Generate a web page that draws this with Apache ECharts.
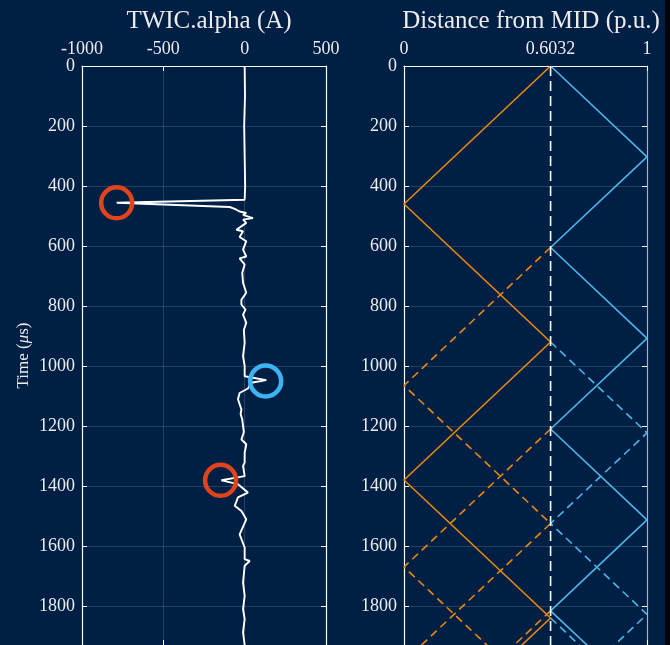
<!DOCTYPE html>
<html>
<head>
<meta charset="utf-8">
<script src="https://cdn.jsdelivr.net/npm/echarts@6/dist/echarts.min.js"></script>
<style>
  html, body { margin: 0; padding: 0; background: #001f45; }
  #chart { width: 670px; height: 645px; }
</style>
</head>
<body>
<div id="chart"></div>
<script>
// TWIC.alpha trace (left panel)
const twicTime = [0, 100, 200, 300, 400, 446, 456, 470, 476, 485, 490, 496, 507, 512, 523, 546, 551, 570, 584, 612, 635, 641, 662, 690, 723, 756, 779, 795, 812, 829, 856, 880, 923, 967, 1000, 1034, 1047, 1056, 1075, 1090, 1111, 1145, 1160, 1178, 1200, 1220, 1245, 1261, 1289, 1322, 1333, 1367, 1381, 1394, 1422, 1438, 1466, 1483, 1511, 1561, 1605, 1644, 1650, 1666, 1721, 1766, 1810, 1844, 1888, 1930]
const twicAmp = [0, 2, -3, 0, 3, 0, -787, -92, -61, -31, 10, -10, 51, -10, 10, -51, -10, -31, 10, -10, 10, -31, 0, -15, -10, 10, -20, -20, 5, -10, 10, -5, 0, -10, 0, 0, 133, 41, 20, -31, -41, -20, -25, -15, -10, -5, -20, 10, 0, 0, -10, 0, -143, -41, 20, -41, -61, -20, 10, -31, 0, 0, 31, 0, -10, 0, -10, 0, -10, 0]

// marked peaks
const redPeakAmp = [-787, -148]
const redPeakTime = [456, 1381]
const bluePeakAmp = [129]
const bluePeakTime = [1050]

// lattice diagram (right panel), [distance p.u., time us]
const faultPos = 0.6032
const orangeSolid = [[0.6032, 0], [0, 460], [0.6032, 920], [0, 1380], [0.6032, 1840], [0, 2300]]
const blueSolid = [[0.6032, 0], [1, 303], [0.6032, 605], [1, 908], [0.6032, 1210], [1, 1513], [0.6032, 1816], [1, 2118]]
const orangeDashA = [[0.6032, 605], [0, 1065], [0.6032, 1525], [0, 1985]]
const orangeDashB = [[0.6032, 1210], [0, 1670], [0.6032, 2130]]
const orangeDashC = [[0.6032, 1816], [0, 2276]]
const blueDashA = [[0.6032, 920], [1, 1223], [0.6032, 1525], [1, 1828], [0.6032, 2130]]
const blueDashB = [[0.6032, 1840], [1, 2143]]

const timeTicks = 200
const timeMax = 1930
const ampTicks = [-1000, 500, 500]
const distTicks = [0, 0.6032, 1]

const serif = "'Liberation Serif', 'DejaVu Serif', serif"
const txt = '#ececec'
const gridCol = 'rgba(255,255,255,0.15)'
const orange = '#e8890c'
const blue = '#4cb6e8'
const plain = (v) => String(v)

function xTop (gi, extra) {
  return Object.assign({
    gridIndex: gi,
    type: 'value',
    position: 'top',
    axisLine: { show: true, onZero: false, lineStyle: { color: '#ffffff', width: 1.2 } },
    axisTick: { show: true, inside: true, length: 5, lineStyle: { color: '#ffffff' } },
    axisLabel: { color: txt, fontFamily: serif, fontSize: 18, margin: 8, formatter: plain }
  }, extra)
}

function xBottom (gi, extra) {
  return Object.assign({
    gridIndex: gi,
    type: 'value',
    position: 'bottom',
    axisLine: { show: true, onZero: false, lineStyle: { color: '#ffffff', width: 1.2 } },
    axisTick: { show: true, inside: true, length: 5, lineStyle: { color: '#ffffff' } },
    axisLabel: { show: false },
    splitLine: { show: false }
  }, extra)
}

function yAx (gi, pos, edgeColor, extra) {
  return Object.assign({
    gridIndex: gi,
    type: 'value',
    position: pos,
    inverse: true,
    min: 0,
    max: timeMax,
    interval: timeTicks,
    axisLine: { show: true, onZero: false, lineStyle: { color: edgeColor, width: 1.2 } },
    axisTick: { show: true, inside: true, length: 5, lineStyle: { color: '#ffffff' } },
    axisLabel: { show: pos === 'left', color: txt, fontFamily: serif, fontSize: 18, margin: 7, showMaxLabel: false, formatter: plain },
    splitLine: { show: pos === 'left', lineStyle: { color: gridCol, width: 1 } }
  }, extra)
}

function seg (data, color, dashed, xi, yi) {
  return {
    type: 'line',
    xAxisIndex: xi,
    yAxisIndex: yi,
    data: data,
    showSymbol: false,
    silent: true,
    lineStyle: { color: color, width: 1.6, type: dashed ? [8, 5] : 'solid' },
    z: 3
  }
}

const chart = echarts.init(document.getElementById('chart'))
chart.setOption({
  backgroundColor: '#001f45',
  animation: false,
  title: [
    { text: 'TWIC.alpha (A)', left: 204, top: 4, textAlign: 'center',
      textStyle: { color: txt, fontFamily: serif, fontSize: 25, fontWeight: 'normal' } },
    { text: 'Distance from MID (p.u.)', left: 526, top: 4, textAlign: 'center',
      textStyle: { color: txt, fontFamily: serif, fontSize: 25, fontWeight: 'normal' } }
  ],
  grid: [
    { left: 82, top: 66, width: 244, height: 580 },
    { left: 404, top: 66, width: 243, height: 580 }
  ],
  xAxis: [
    xTop(0, { min: ampTicks[0], max: ampTicks[1], interval: ampTicks[2],
      splitLine: { show: true, lineStyle: { color: gridCol } } }),
    xBottom(0, { min: ampTicks[0], max: ampTicks[1], interval: ampTicks[2] }),
    xTop(1, { min: 0, max: 1,
      axisTick: { show: true, inside: true, length: 5, customValues: distTicks, lineStyle: { color: '#ffffff' } },
      axisLabel: { color: txt, fontFamily: serif, fontSize: 18, margin: 8, customValues: distTicks, formatter: plain },
      splitLine: { show: false } }),
    xBottom(1, { min: 0, max: 1,
      axisTick: { show: true, inside: true, length: 5, customValues: distTicks, lineStyle: { color: '#ffffff' } } })
  ],
  yAxis: [
    yAx(0, 'left', '#ffffff', {
      name: '{a|Time (}{b|μ}{a|s)}',
      nameLocation: 'middle',
      nameGap: 50,
      nameTextStyle: {
        rich: {
          a: { color: txt, fontFamily: serif, fontSize: 17 },
          b: { color: txt, fontFamily: serif, fontSize: 17, fontStyle: 'italic' }
        }
      }
    }),
    yAx(0, 'right', '#ffffff'),
    yAx(1, 'left', '#ffffff'),
    yAx(1, 'right', '#a9b2c2')
  ],
  series: [
    {
      type: 'line',
      xAxisIndex: 0,
      yAxisIndex: 0,
      data: twicTime.map((t, i) => [twicAmp[i], t]),
      showSymbol: false,
      silent: true,
      lineStyle: { color: '#ffffff', width: 1.9 },
      z: 3
    },
    {
      type: 'scatter',
      xAxisIndex: 0,
      yAxisIndex: 0,
      data: redPeakTime.map((t, i) => [redPeakAmp[i], t]),
      symbolSize: 31,
      itemStyle: { color: 'rgba(0,0,0,0)', borderColor: '#e0441c', borderWidth: 4.5, opacity: 1 },
      z: 4
    },
    {
      type: 'scatter',
      xAxisIndex: 0,
      yAxisIndex: 0,
      data: bluePeakTime.map((t, i) => [bluePeakAmp[i], t]),
      symbolSize: 31,
      itemStyle: { color: 'rgba(0,0,0,0)', borderColor: '#3cb4f2', borderWidth: 4.5, opacity: 1 },
      z: 4
    },
    seg(orangeSolid, orange, false, 2, 2),
    seg(blueSolid, blue, false, 2, 2),
    seg(orangeDashA, orange, true, 2, 2),
    seg(orangeDashB, orange, true, 2, 2),
    seg(orangeDashC, orange, true, 2, 2),
    seg(blueDashA, blue, true, 2, 2),
    seg(blueDashB, blue, true, 2, 2),
    {
      type: 'line',
      xAxisIndex: 2,
      yAxisIndex: 2,
      data: [[faultPos, 0], [faultPos, timeMax]],
      showSymbol: false,
      silent: true,
      lineStyle: { color: '#ffffff', width: 1.6, type: [10, 5] },
      z: 5
    }
  ],
  graphic: [
    { type: 'rect', right: 0, top: 0, shape: { width: 5, height: 645 }, style: { fill: '#02060c' }, z: 10 }
  ]
})
</script>
</body>
</html>
